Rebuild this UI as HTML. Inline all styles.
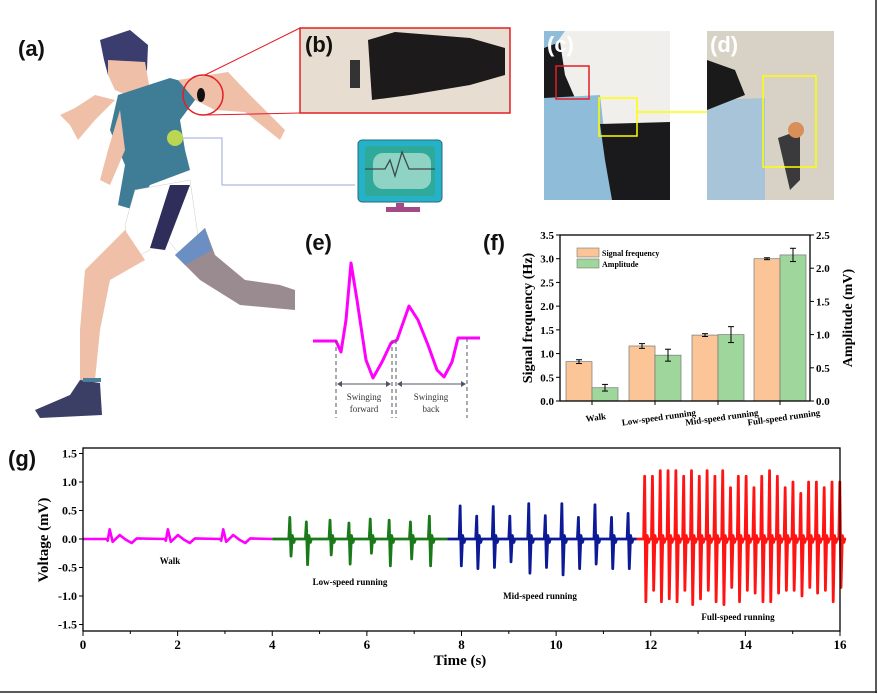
<!DOCTYPE html>
<html><head><meta charset="utf-8"><style>
html,body{margin:0;padding:0;background:#fff}
svg{display:block}
text{font-family:"Liberation Serif",serif;font-weight:bold}
.lab{font-family:"Liberation Sans",sans-serif;font-weight:bold;font-size:22px}
</style></head><body>
<svg id="s" width="878" height="694" viewBox="0 0 878 694" xmlns="http://www.w3.org/2000/svg">
<rect width="878" height="694" fill="#fff"/>
<line x1="876" y1="0" x2="876" y2="693" stroke="#222" stroke-width="1.5"/>
<line x1="0" y1="692" x2="877" y2="692" stroke="#222" stroke-width="1.5"/>
<!-- runner -->
<g>
<path d="M100,40 L130,30 L148,45 L147,70 L140,90 L120,88 L108,75 L104,60 Z" fill="#3a3d6e"/>
<path d="M108,60 L145,62 L150,90 L138,100 L115,90 L108,75Z" fill="#efbfa8"/>
<path d="M118,95 L170,78 L195,85 L195,100 L180,120 L185,150 L190,170 L150,185 L135,210 L118,205 L125,165 L110,130 Z" fill="#3e7d95"/>
<path d="M178,80 L228,72 L250,95 L285,130 L280,140 L245,112 L215,110 L195,100Z" fill="#efbfa8"/>
<path d="M115,100 L95,120 L78,140 L70,125 L60,115 L75,108 L95,95 Z" fill="#efbfa8"/>
<path d="M120,110 L108,150 L100,180 L110,185 L125,150 Z" fill="#efbfa8"/>
<path d="M135,190 L190,180 L200,250 L180,255 L160,230 L150,250 L130,260 L125,225 Z" fill="#fff" stroke="#ccc" stroke-width="0.5"/>
<path d="M170,185 L190,185 L165,250 L150,248 Z" fill="#2f2e5a"/>
<path d="M125,230 L145,260 L110,280 L100,330 L95,380 L80,385 L80,330 L85,270 Z" fill="#efbfa8"/>
<path d="M175,255 L205,228 L215,255 L245,280 L280,285 L295,290 L295,310 L240,305 L200,280 Z" fill="#998b90"/>
<path d="M175,255 L205,228 L212,250 L185,265Z" fill="#6b8fc2"/>
<path d="M80,380 L100,383 L102,415 L40,418 L35,410 L70,395 Z" fill="#3b3f66"/>
<rect x="83" y="378" width="18" height="4" fill="#4a7f99"/>
<circle cx="175" cy="138" r="8" fill="#c8e04a" opacity="0.9"/>
<circle cx="203" cy="95" r="20" fill="none" stroke="#e31e24" stroke-width="1.5"/>
<ellipse cx="201" cy="95" rx="4" ry="7" fill="#111"/>
<polyline points="183,138 222,138 222,185 355,185" fill="none" stroke="#9aa8d8" stroke-width="1"/>
</g>
<line x1="205" y1="75" x2="300" y2="28" stroke="#e31e24" stroke-width="1"/>
<line x1="205" y1="115" x2="300" y2="113" stroke="#e31e24" stroke-width="1"/>
<!-- monitor -->
<rect x="358" y="140" width="84" height="62" rx="4" fill="#25b2c8" stroke="#2a6a7a" stroke-width="1"/>
<rect x="365" y="146" width="70" height="50" rx="3" fill="#2fa99a"/>
<rect x="373" y="153" width="58" height="36" rx="10" fill="#8fd3c4"/>
<polyline points="365,169 385,169 390,160 395,176 402,152 409,169 435,169" fill="none" stroke="#3a4a4a" stroke-width="1.3"/>
<rect x="396" y="203" width="8" height="5" fill="#a24b86"/>
<rect x="386" y="207" width="34" height="5" fill="#a24b86"/>
<!-- (b) photo -->
<rect x="300" y="28" width="210" height="85" fill="#e7ddd0"/>
<path d="M368,40 L395,32 L470,38 L505,48 L505,75 L470,85 L410,95 L372,100 Z" fill="#1c1a1a"/>
<rect x="350" y="60" width="10" height="28" fill="#333"/>
<rect x="300" y="28" width="210" height="85" fill="none" stroke="#e31e24" stroke-width="1.5"/>
<text x="305" y="52" class="lab" fill="#111">(b)</text>
<!-- (c) photo -->
<rect x="544" y="31" width="126" height="169" fill="#f0efec"/>
<path d="M544,31 L565,31 L555,45 L544,48Z" fill="#8fbcd8"/>
<path d="M544,48 L560,42 L565,75 L575,98 L544,100Z" fill="#1a1a1c"/>
<path d="M544,98 L600,95 L612,200 L544,200Z" fill="#8fbcd8"/>
<path d="M600,124 L670,122 L670,200 L612,200 L605,160Z" fill="#1a1a1c"/>
<rect x="556" y="66" width="33" height="33" fill="none" stroke="#e31e24" stroke-width="1.5"/>
<rect x="599" y="98" width="38" height="38" fill="none" stroke="#ffff00" stroke-width="1.5"/>
<line x1="637" y1="112" x2="760" y2="112" stroke="#ffff00" stroke-width="1.5"/>
<polygon points="763,112 752,107 752,117" fill="#ffff00"/>
<text x="547" y="52" class="lab" fill="#fff">(c)</text>
<!-- (d) photo -->
<rect x="707" y="31" width="127" height="169" fill="#d8d2c6"/>
<path d="M707,100 L765,98 L765,200 L707,200Z" fill="#a8c4d8"/>
<path d="M707,60 L735,70 L745,95 L707,110Z" fill="#1a1a1a"/>
<path d="M778,138 L800,130 L800,180 L790,190Z" fill="#3a3a3c"/>
<circle cx="796" cy="130" r="8" fill="#d98f5a"/>
<rect x="763" y="76" width="53" height="91" fill="none" stroke="#ffff00" stroke-width="1.5"/>
<text x="710" y="52" class="lab" fill="#fff">(d)</text>
<text x="18" y="56" class="lab" fill="#111">(a)</text>
<!-- (e) -->
<text x="305" y="250" class="lab" fill="#111">(e)</text>
<path d="M313,341 L336,341 L341,352 L346,320 L351,263 L357,300 L366,360 L373,378 L382,362 L391,343 L397,340 L409,306 L418,320 L428,345 L437,370 L444,377 L452,362 L458,338 L470,338 L480,338" fill="none" stroke="#ff00ff" stroke-width="3" stroke-linejoin="round"/>
<g stroke="#556" stroke-width="1" stroke-dasharray="4,3">
<line x1="336" y1="340" x2="336" y2="418"/><line x1="392" y1="340" x2="392" y2="418"/>
<line x1="396" y1="340" x2="396" y2="418"/><line x1="467" y1="338" x2="467" y2="418"/>
</g>
<g stroke="#556" stroke-width="1"><line x1="338" y1="384" x2="390" y2="384"/><line x1="398" y1="384" x2="465" y2="384"/></g>
<g fill="#556"><polygon points="337,384 342,381 342,387"/><polygon points="391,384 386,381 386,387"/><polygon points="397,384 402,381 402,387"/><polygon points="466,384 461,381 461,387"/></g>
<g font-size="9" fill="#333" text-anchor="middle">
<text x="364" y="400" style="font-weight:normal">Swinging</text><text x="364" y="412" style="font-weight:normal">forward</text>
<text x="431" y="400" style="font-weight:normal">Swinging</text><text x="431" y="412" style="font-weight:normal">back</text></g>
<!-- (f) -->
<text x="483" y="250" class="lab" fill="#111">(f)</text>
<g id="fplot"></g>
<!-- (g) -->
<text x="8" y="466" class="lab" fill="#111">(g)</text>
<g id="gplot"></g>
</svg>
<script>
var NS="http://www.w3.org/2000/svg";
function el(p,t,a,txt){var e=document.createElementNS(NS,t);for(var k in a)e.setAttribute(k,a[k]);if(txt!=null)e.textContent=txt;p.appendChild(e);return e;}
var f=document.getElementById('fplot');
var L=560,R=810,T=235,B=401;
function yf(v){return B-v*(B-T)/3.5}
function ya(v){return B-v*(B-T)/2.5}
var data=[[0.83,0.04,0.2,0.05,566],[1.16,0.05,0.69,0.09,629],[1.39,0.03,1.0,0.12,692],[3.0,0.02,2.2,0.1,754]];
data.forEach(function(d){
 var x=d[4];
 el(f,'rect',{x:x,y:yf(d[0]),width:26,height:B-yf(d[0]),fill:'#fbc597',stroke:'#777','stroke-width':0.7});
 el(f,'rect',{x:x+26,y:ya(d[2]),width:26,height:B-ya(d[2]),fill:'#9fd69c',stroke:'#777','stroke-width':0.7});
 [[x+13,yf(d[0]),d[1]*(B-T)/3.5],[x+39,ya(d[2]),d[3]*(B-T)/2.5]].forEach(function(e){
  el(f,'line',{x1:e[0],x2:e[0],y1:e[1]-e[2],y2:e[1]+e[2],stroke:'#000','stroke-width':1});
  el(f,'line',{x1:e[0]-3,x2:e[0]+3,y1:e[1]-e[2],y2:e[1]-e[2],stroke:'#000','stroke-width':1});
  el(f,'line',{x1:e[0]-3,x2:e[0]+3,y1:e[1]+e[2],y2:e[1]+e[2],stroke:'#000','stroke-width':1});
 });
});
el(f,'rect',{x:L,y:T,width:R-L,height:B-T,fill:'none',stroke:'#000','stroke-width':1.3});
for(var i=0;i<=7;i++){var v=i*0.5,y=yf(v);
 el(f,'line',{x1:L-4,x2:L,y1:y,y2:y,stroke:'#000'});
 el(f,'text',{x:L-6,y:y+4,'font-size':11,'text-anchor':'end'},v.toFixed(1));}
for(var i=0;i<=5;i++){var v=i*0.5,y=ya(v);
 el(f,'line',{x1:R,x2:R+4,y1:y,y2:y,stroke:'#000'});
 el(f,'text',{x:R+6,y:y+4,'font-size':11},v.toFixed(1));}
[[592,'Walk'],[655,'Low-speed running'],[718,'Mid-speed running'],[780,'Full-speed running']].forEach(function(c){
 el(f,'line',{x1:c[0],x2:c[0],y1:B,y2:B+4,stroke:'#000'});
 el(f,'text',{x:c[0]+4,y:B+20,'font-size':9,'text-anchor':'middle',transform:'rotate(-8 '+c[0]+' '+(B+18)+')'},c[1]);});
el(f,'text',{x:0,y:0,'font-size':14,'text-anchor':'middle',transform:'translate(532,318) rotate(-90)'},'Signal frequency (Hz)');
el(f,'text',{x:0,y:0,'font-size':14,'text-anchor':'middle',transform:'translate(852,318) rotate(-90)'},'Amplitude (mV)');
el(f,'rect',{x:577,y:248,width:22,height:9,fill:'#fbc597',stroke:'#777','stroke-width':0.6});
el(f,'rect',{x:577,y:259,width:22,height:9,fill:'#9fd69c',stroke:'#777','stroke-width':0.6});
el(f,'text',{x:602,y:256,'font-size':8},'Signal frequency');
el(f,'text',{x:602,y:267,'font-size':8},'Amplitude');
var g=document.getElementById('gplot');
var GL=83,GR=840,GT=448,GB=631;
function gx(t){return GL+t*(GR-GL)/16}
function gy(v){return 539-v*57}
function seg(t0,t1,spikes,col,walk,w){
 var p='M'+gx(t0)+','+gy(0);
 spikes.forEach(function(s){
  var t=s[0],x=gx(t);
  if(walk){p+=' L'+x+','+gy(0)+' L'+(x+1)+','+gy(-0.03)+' L'+(x+3)+','+gy(0.17)+' L'+(x+6)+','+gy(-0.05)+' L'+(x+13)+','+gy(0.07)+' L'+(x+19)+','+gy(-0.01)+' L'+(x+25)+','+gy(-0.07)+' L'+(x+30)+','+gy(0.01);}
  else{p+=' L'+x+','+gy(0)+' L'+(x+1)+','+gy(s[1])+' L'+(x+2.2)+','+gy(s[2])+' L'+(x+3.5)+','+gy(0.06)+' L'+(x+5)+','+gy(-0.06)+' L'+(x+6)+','+gy(0);}
 });
 p+=' L'+gx(t1)+','+gy(0);
 el(g,'path',{d:p,fill:'none',stroke:col,'stroke-width':w||2.8,'stroke-linejoin':'round'});
}
seg(0,4,[[0.5],[1.73],[2.9]],'#ff00ff',true,2.6);
seg(4,7.7,[[4.35,0.38,-0.3],[4.7,0.3,-0.45],[5.2,0.33,-0.28],[5.6,0.28,-0.44],[6.05,0.35,-0.25],[6.45,0.33,-0.47],[6.9,0.3,-0.35],[7.3,0.4,-0.47]],'#1a7a1a');
seg(7.7,11.7,[[7.95,0.58,-0.47],[8.3,0.4,-0.52],[8.65,0.57,-0.5],[9.0,0.4,-0.4],[9.4,0.62,-0.6],[9.75,0.41,-0.5],[10.1,0.62,-0.63],[10.45,0.38,-0.52],[10.8,0.6,-0.44],[11.15,0.38,-0.52],[11.5,0.45,-0.52]],'#0c1a96');
var fs=[];var t=11.85;var k=0;while(t<16){fs.push([t,[1.1,1.1,1.2,1.2,1.2,1.1,1.2,1.1,1.2,1.1,1.2,0.9,1.1,1.1,0.9,1.1,1.2,1.1,0.9,1.0,0.8,1.0,1.0,0.9,1.0,1.0][k%26],[-1.1,-0.9,-1.1,-1.05,-1.1,-0.9,-1.15,-1.05,-0.9,-1.1,-1.15,-0.85,-1.1,-0.9,-0.95,-1.1,-1.1,-0.95,-0.9,-0.9,-1.0,-0.85,-0.95,-0.9,-1.1,-0.85][k%26]]);t+=0.165;k++;}
seg(11.7,16,fs,'#ff1414');
el(g,'rect',{x:GL,y:GT,width:GR-GL,height:GB-GT,fill:'none',stroke:'#000','stroke-width':1.3});
for(var i=-3;i<=3;i++){var v=i*0.5,y=gy(v);
 el(g,'line',{x1:GL-4,x2:GL,y1:y,y2:y,stroke:'#000'});
 el(g,'text',{x:GL-6,y:y+4,'font-size':12,'text-anchor':'end'},v.toFixed(1));}
for(var i=0;i<=16;i++){var x=gx(i);
 el(g,'line',{x1:x,x2:x,y1:GB,y2:GB+(i%2?3:5),stroke:'#000'});
 if(i%2==0)el(g,'text',{x:x,y:GB+18,'font-size':13,'text-anchor':'middle'},String(i));}
el(g,'text',{x:460,y:665,'font-size':15,'text-anchor':'middle'},'Time (s)');
el(g,'text',{x:0,y:0,'font-size':15,'text-anchor':'middle',transform:'translate(48,540) rotate(-90)'},'Voltage (mV)');
el(g,'text',{x:170,y:564,'font-size':9,'text-anchor':'middle'},'Walk');
el(g,'text',{x:350,y:585,'font-size':9,'text-anchor':'middle'},'Low-speed running');
el(g,'text',{x:540,y:599,'font-size':9,'text-anchor':'middle'},'Mid-speed running');
el(g,'text',{x:738,y:620,'font-size':9,'text-anchor':'middle'},'Full-speed running');
</script>
</body></html>
